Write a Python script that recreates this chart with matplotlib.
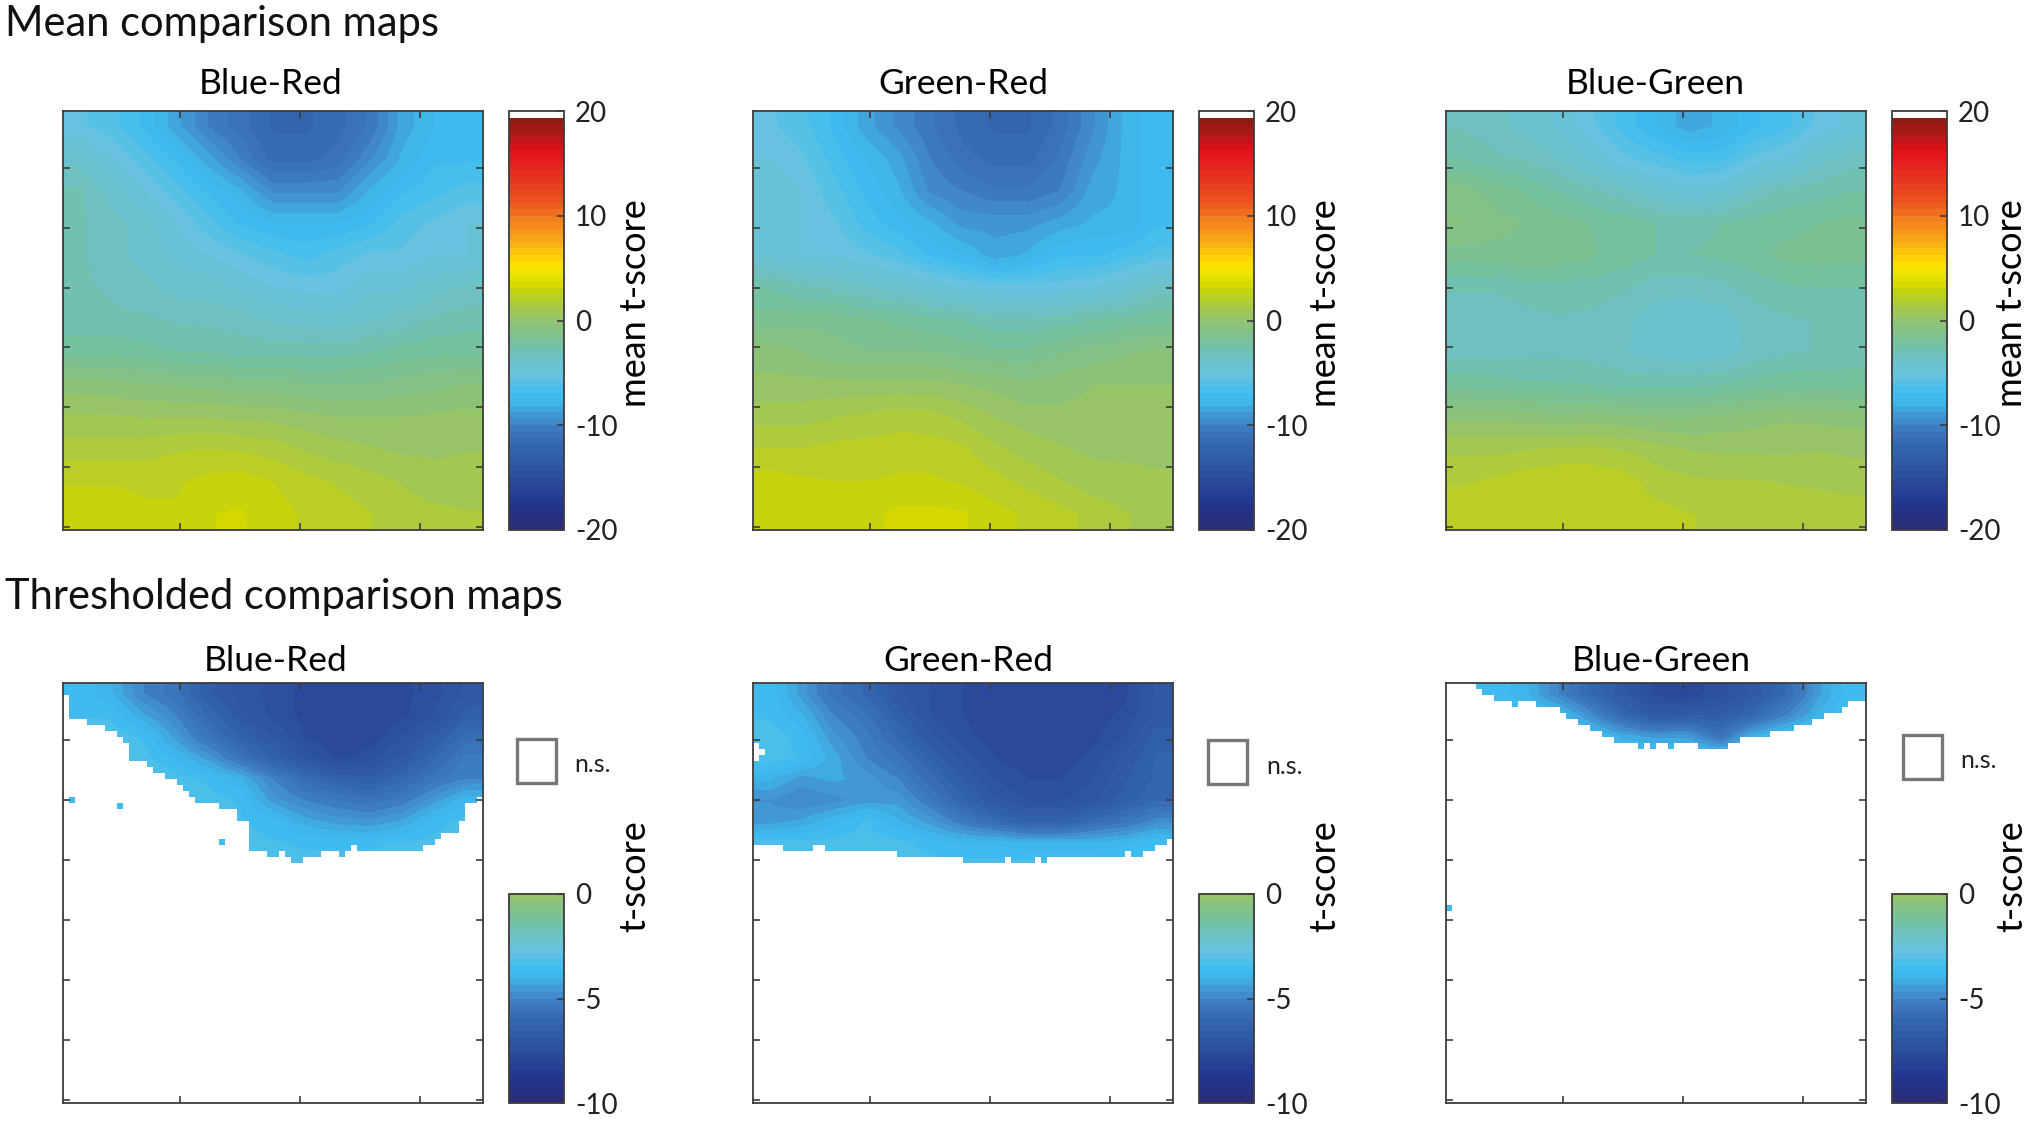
#!/usr/bin/python3

"""

Mean and thresholded comparison maps, three colour pairs

"""

import numpy as np
import matplotlib
matplotlib.use("Agg")
from matplotlib import pyplot as plt
from matplotlib.cm import ScalarMappable
from matplotlib.colors import LinearSegmentedColormap, ListedColormap, Normalize
from matplotlib.patches import Rectangle

plt.rcParams["font.family"] = ["Lato", "DejaVu Sans"]
plt.rcParams["axes.unicode_minus"] = False

W, H = 2032, 1121

pair_names = ["Blue-Red", "Green-Red", "Blue-Green"]

# mean maps, 13 x 13 samples from top edge to bottom edge
mean_blue_red = [
    [-5.5, -6, -7, -8.5, -10, -11, -12, -12, -11.5, -10.5, -8.5, -7.5, -7],
    [-4, -5, -6, -7, -8.5, -10, -11.5, -11.5, -11, -9.5, -8, -7, -7],
    [-3, -4, -5, -6, -7, -8, -9.5, -9.5, -9.5, -8, -7, -6.5, -6],
    [-3, -3.5, -4, -5, -6, -7, -7.5, -7.5, -7.5, -7, -6, -5.5, -5],
    [-3, -3.5, -4, -4.5, -5, -5.5, -6, -6.5, -6, -5.5, -5.5, -5, -5],
    [-3, -3.2, -3.5, -4, -4, -4.5, -5, -5.2, -5.2, -4.5, -4.5, -4, -3.5],
    [-3, -3, -3, -3.2, -3.3, -3.5, -3.8, -4, -4.2, -3.8, -3.5, -3, -2.8],
    [-2, -2, -2.2, -2.5, -2.5, -2.7, -2.7, -2.7, -2.7, -2.5, -2.2, -2, -2],
    [-0.3, -0.4, -0.6, -0.7, -0.8, -1, -1, -1.2, -1.2, -1.2, -1, -0.8, -0.6],
    [0.7, 0.7, 0.6, 0.6, 0.6, 0.5, 0.4, 0.2, 0, 0, 0, 0.1, 0.2],
    [1.6, 1.6, 1.6, 1.8, 1.9, 1.8, 1.6, 1.2, 0.9, 0.7, 0.5, 0.5, 0.6],
    [2.4, 2.4, 2.4, 2.4, 2.7, 2.8, 2.5, 2.1, 1.8, 1.5, 1.2, 0.9, 0.9],
    [3.1, 3, 2.6, 2.6, 3.1, 3.2, 2.8, 2.4, 2.2, 1.9, 1.6, 1.4, 1.3],
]
mean_green_red = [
    [-5.5, -6, -7, -8.5, -9.5, -10.5, -11.5, -12, -12, -11, -9.5, -8, -7],
    [-5, -5.5, -6.5, -7.5, -8.5, -10, -11, -11.5, -11.5, -10.5, -9, -8, -7],
    [-4.5, -5, -6, -7, -8, -9.5, -10, -10.5, -10.5, -10, -8.5, -8, -7],
    [-4.5, -5, -5.5, -6.5, -7.3, -8, -9, -9, -9, -8.5, -8, -8, -7],
    [-4.5, -5, -5, -5.5, -6, -7, -7.5, -8.5, -8, -7, -7, -6.5, -6],
    [-2.5, -3, -3.3, -3.7, -4, -4.5, -5, -5.3, -5.3, -5.3, -5, -4.5, -3.5],
    [-1.5, -1.5, -1.5, -1.8, -2, -2.3, -2.5, -3, -3, -2.8, -2.5, -2.3, -2],
    [-0.3, -0.6, -1, -1.2, -1.2, -1.2, -1.5, -1.7, -1.7, -1.3, -1, -0.7, -0.5],
    [0.2, 0.2, 0.2, 0.2, 0.2, 0.2, 0, -0.2, -0.5, -0.3, 0, 0, 0],
    [1, 1, 1.2, 1.4, 1.6, 1.5, 1.1, 0.6, 0.3, 0.2, 0.2, 0.4, 0.3],
    [1.9, 1.9, 2.1, 2.1, 2.2, 2.2, 2, 1.4, 1, 0.7, 0.5, 0.5, 0.5],
    [2.8, 2.6, 2.5, 2.5, 2.6, 2.6, 2.4, 2.1, 1.7, 1.3, 0.9, 0.8, 0.7],
    [2.9, 2.8, 2.9, 2.9, 3.3, 3.3, 3.2, 2.7, 2.4, 2.1, 1.7, 1.3, 1],
]
mean_blue_green = [
    [-3.2, -3.5, -4, -4.5, -5.5, -6.5, -7.5, -8.5, -8, -7, -6.5, -5.5, -4.8],
    [-2.5, -3, -3.2, -3.8, -4.5, -5.5, -6, -6.5, -6.5, -5.5, -5, -4, -3.5],
    [-1, -1.5, -2, -2.5, -3, -3.5, -4.2, -4.8, -4.5, -3.5, -3, -2.8, -2.5],
    [-0.6, -1, -1.3, -1.6, -1.9, -2.1, -2.5, -2.7, -2.5, -2.3, -2.1, -1.9, -1.7],
    [-1.6, -1.5, -1.4, -1.5, -1.8, -2.1, -2.5, -2.5, -2.4, -2.1, -1.7, -1.6, -1.7],
    [-3, -3, -2.7, -2.7, -2.8, -3, -3.5, -3.5, -3.3, -2.9, -2.6, -2.5, -2.5],
    [-3.7, -3.7, -3.4, -3.2, -3.3, -3.6, -4.1, -4.2, -4.1, -3.5, -3.2, -3.1, -3.1],
    [-3.4, -3.4, -3.3, -3.3, -3.4, -3.7, -4, -4.2, -4.1, -3.6, -3.2, -3.1, -3],
    [-2, -2.2, -2.4, -2.4, -2.5, -2.7, -2.7, -2.7, -2.5, -2.2, -2, -2, -2],
    [-0.2, -0.2, -0.3, -0.5, -0.4, -0.5, -0.7, -0.7, -0.5, -0.3, -0.1, -0.2, -0.3],
    [1.1, 1.1, 1.2, 1.4, 1.4, 1.2, 0.9, 0.6, 0.5, 0.5, 0.5, 0.6, 0.5],
    [1.8, 2, 2.3, 2.4, 2.4, 2.2, 1.6, 1.4, 1.3, 1.3, 1.2, 1.1, 1],
    [2.2, 2.4, 2.5, 2.4, 2.4, 2.2, 2.1, 1.9, 1.8, 1.8, 1.8, 1.7, 1.6],
]

# thresholded maps, 9 x 13 samples over rows 0-32 of the 70 x 70 grid
thr_blue_red = [
    [-3.5, -4, -5, -5.5, -6.5, -7, -7.3, -7.6, -7.6, -7.6, -7.6, -7.3, -6.8],
    [-3.5, -3.5, -4.3, -5, -6, -6.8, -7.3, -7.6, -7.7, -7.7, -7.6, -7.2, -6.4],
    [-3, -3.2, -3.5, -4.5, -5.5, -6.3, -6.9, -7.5, -7.8, -7.7, -7.2, -6.6, -5.8],
    [-3, -3, -3.3, -3.8, -4.5, -5.5, -6.3, -7, -7.6, -7.3, -6.8, -6, -5.2],
    [-3, -3, -3, -3.3, -3.5, -4, -5, -5.8, -6.3, -6.5, -6, -5.4, -5],
    [-3, -3, -3, -3, -3.3, -3.5, -4.5, -5, -5.3, -5.5, -5.2, -4.5, -3.8],
    [-3, -3, -3, -3, -3.2, -3.4, -3.6, -4.2, -4.5, -4.6, -4.3, -3.6, -3.3],
    [-3.3, -3.3, -3.3, -3.3, -3.3, -3.3, -3.4, -3.5, -3.5, -3.5, -3.4, -3.3, -3.3],
    [-3.3, -3.3, -3.3, -3.3, -3.3, -3.3, -3.3, -3.3, -3.3, -3.3, -3.3, -3.3, -3.3],
]
thr_green_red = [
    [-3.5, -4.5, -5.5, -6, -6.8, -7.2, -7.5, -7.7, -7.8, -7.8, -7.8, -7.6, -6.8],
    [-3.5, -4, -5, -5.5, -6.4, -7.2, -7.5, -7.7, -7.8, -7.8, -7.7, -7.4, -6.8],
    [-3.2, -3.6, -4.6, -5.2, -6, -6.8, -7.4, -7.7, -7.8, -7.8, -7.6, -7.2, -6.4],
    [-3.2, -3.5, -4.2, -5, -5.5, -6.3, -7, -7.5, -7.7, -7.7, -7.4, -6.8, -6.2],
    [-4, -4.5, -4.3, -4.5, -5, -5.8, -6.6, -7.2, -7.5, -7.5, -7.2, -6.6, -6.2],
    [-4.7, -5, -4.8, -4.5, -4.5, -5.3, -6.2, -6.8, -7.2, -7.2, -7, -6.4, -6],
    [-4.5, -4.3, -3.8, -3.4, -4, -4.5, -5.2, -5.8, -6.3, -6.3, -5.8, -5.4, -4.8],
    [-3.3, -3.3, -3.3, -3.3, -3.3, -3.6, -3.8, -3.8, -4, -4, -4, -3.8, -3.5],
    [-3.3, -3.3, -3.3, -3.3, -3.3, -3.3, -3.3, -3.3, -3.3, -3.3, -3.3, -3.3, -3.3],
]
thr_blue_green = [
    [-3.5, -3.5, -4, -5, -6, -6.8, -7.6, -7.7, -7.3, -6.8, -6, -4.5, -3.5],
    [-3.5, -3.5, -3.5, -3.7, -4.8, -6, -6.8, -6.6, -6.6, -6, -5, -4, -3.4],
    [-3.3, -3.3, -3.3, -3.3, -3.5, -4.2, -4.5, -4.5, -5.5, -4, -3.5, -3.3, -3.3],
    [-3.3, -3.3, -3.3, -3.3, -3.3, -3.3, -3.3, -3.3, -3.3, -3.3, -3.3, -3.3, -3.3],
    [-3.3, -3.3, -3.3, -3.3, -3.3, -3.3, -3.3, -3.3, -3.3, -3.3, -3.3, -3.3, -3.3],
    [-3.3, -3.3, -3.3, -3.3, -3.3, -3.3, -3.3, -3.3, -3.3, -3.3, -3.3, -3.3, -3.3],
    [-3.3, -3.3, -3.3, -3.3, -3.3, -3.3, -3.3, -3.3, -3.3, -3.3, -3.3, -3.3, -3.3],
    [-3.3, -3.3, -3.3, -3.3, -3.3, -3.3, -3.3, -3.3, -3.3, -3.3, -3.3, -3.3, -3.3],
    [-3.3, -3.3, -3.3, -3.3, -3.3, -3.3, -3.3, -3.3, -3.3, -3.3, -3.3, -3.3, -3.3],
]

# number of significant rows from the top, one entry per column
depth_blue_red = [2, 6, 6, 6, 7, 7, 7, 8, 8, 9, 10, 13, 13, 13, 14, 15, 15, 16, 16, 17,
                  18, 19, 20, 20, 20, 20, 21, 21, 21, 23, 23, 28, 28, 28, 29, 29, 28, 29, 30, 30,
                  29, 29, 29, 28, 28, 28, 29, 28, 27, 28, 28, 28, 28, 28, 28, 28, 28, 28, 28, 28,
                  27, 27, 26, 25, 25, 25, 23, 20, 20, 19]
depth_green_red = [27, 27, 27, 27, 27, 28, 28, 28, 28, 28, 27, 27, 28, 28, 28, 28, 28, 28, 28, 28,
                   28, 28, 28, 28, 29, 29, 29, 29, 29, 29, 29, 29, 29, 29, 29, 30, 30, 30, 30, 30,
                   30, 30, 29, 30, 30, 30, 30, 29, 30, 29, 29, 29, 29, 29, 29, 29, 29, 29, 29, 29,
                   29, 29, 28, 29, 29, 28, 28, 27, 27, 26]
depth_blue_green = [0, 0, 0, 0, 0, 1, 2, 2, 3, 3, 3, 4, 3, 3, 3, 4, 4, 4, 4, 5,
                    6, 6, 7, 7, 8, 8, 9, 9, 10, 10, 10, 10, 11, 10, 11, 10, 10, 11, 10, 10,
                    10, 10, 11, 11, 11, 11, 11, 10, 10, 9, 9, 9, 9, 9, 8, 8, 8, 8, 7, 7,
                    7, 6, 6, 5, 5, 5, 4, 3, 3, 3]

# isolated cells (row, column, t-score) and holes (row, column), 1-based
spots_blue_red = [(20, 2, -3.5), (21, 10, -3.5), (27, 27, -3.5)]
spots_green_red = []
spots_blue_green = [(38, 1, -3.5)]
holes_green_red = [(11, 1), (12, 1), (13, 1), (12, 2)]

cbar_mean_ticks = [-20, -10, 0, 10, 20]
cbar_thr_ticks = [-10, -5, 0]
x_ticks = [20, 40, 60]
y_ticks = [10, 20, 30, 40, 50, 60, 70]

# colour bar stops
stop_values = [-20, -18, -15.5, -12.5, -10.5, -9, -8, -7, -5.5, -4, -2.5, -1, 0.5, 2, 3.2,
               4.5, 5.5, 6.5, 8, 10, 12, 14.5, 16.5, 18, 19.4, 20]
stop_colours = ["#2a2d78", "#21348c", "#2b4a9c", "#3364ae", "#3e7bc0", "#4399d6", "#3fb5ea",
                "#3fbdf0", "#66c2e0", "#6cc2cc", "#74c1a6", "#85c184", "#98c565", "#b5cd32",
                "#cdd500", "#ece400", "#fde000", "#fdc80a", "#f7a218", "#f27a1e", "#ea4e20",
                "#e52b20", "#e3101a", "#b2181a", "#8e1a14", "#8e1a14"]

base = LinearSegmentedColormap.from_list(
    "tscore", [((v + 20) / 40, c) for v, c in zip(stop_values, stop_colours)])
mean_colours = base(np.linspace(0, 1, 64))
mean_colours[-1] = (1, 1, 1, 1)
mean_cmap = ListedColormap(mean_colours)
thr_cmap = ListedColormap(base(np.linspace(0, 0.5, 32)))
mean_norm = Normalize(-20, 20)
thr_norm = Normalize(-10, 0)

INK = "#3c3c3c"
EXT = (0.5, 70.5, 70.5, 0.5)

fig = plt.figure(figsize=(W / 100, H / 100), dpi=100)


def px_axes(x0, y0, x1, y1):
    return fig.add_axes([x0 / W, 1 - y1 / H, (x1 - x0) / W, (y1 - y0) / H])


def setup_map(ax):
    ax.set_xlim(0.5, 70.5)
    ax.set_ylim(70.5, 0.5)
    ax.set_aspect("auto")
    ax.set_xticks(x_ticks)
    ax.set_yticks(y_ticks)
    ax.tick_params(direction="in", length=5, width=1.2, color=INK, top=True, right=True,
                   labelleft=False, labelbottom=False)
    for s in ax.spines.values():
        s.set_linewidth(1.3)
        s.set_color(INK)


def add_cbar(box, cmap, norm, ticks):
    cax = px_axes(*box)
    cb = fig.colorbar(ScalarMappable(norm=norm, cmap=cmap), cax=cax, ticks=ticks)
    cb.ax.tick_params(direction="in", length=5, width=1.2, color=INK, labelsize=20, pad=8,
                      labelcolor="#222222")
    cb.outline.set_linewidth(1.3)
    cb.outline.set_edgecolor(INK)


map_left = [63, 753, 1446]
cbar_left = [509, 1199, 1892]
label_x = [635, 1325, 2012]
title_x = [271, 963, 1655]
title_x2 = [276, 968, 1661]
box_left = [517, 1208, 1903]
box_top = [739, 740, 735]
ns_x = [574, 1266, 1960]

mean_maps = [mean_blue_red, mean_green_red, mean_blue_green]
thr_maps = [thr_blue_red, thr_green_red, thr_blue_green]
depths = [depth_blue_red, depth_green_red, depth_blue_green]
spots = [spots_blue_red, spots_green_red, spots_blue_green]
holes = [[], holes_green_red, []]

fig.text(5 / W, 1 - 24 / H, "Mean comparison maps", fontsize=30, va="center", color="#111111")
fig.text(5 / W, 1 - 597 / H, "Thresholded comparison maps", fontsize=30, va="center", color="#111111")

for i in range(3):
    # mean row
    ax = px_axes(map_left[i], 111, map_left[i] + 420, 530)
    ax.imshow(mean_maps[i], cmap=mean_cmap, norm=mean_norm, extent=EXT, aspect="auto",
              interpolation="bilinear", interpolation_stage="data")
    setup_map(ax)
    add_cbar((cbar_left[i], 111, cbar_left[i] + 55, 530), mean_cmap, mean_norm, cbar_mean_ticks)
    fig.text(title_x[i] / W, 1 - 84 / H, pair_names[i], fontsize=25.5, ha="center", va="center")
    fig.text(label_x[i] / W, 1 - 303 / H, "mean t-score", fontsize=26, rotation=90, ha="center", va="center")

    # thresholded row
    ax = px_axes(map_left[i], 683, map_left[i] + 420, 1103)
    ax.imshow(thr_maps[i], cmap=thr_cmap, norm=thr_norm, extent=(0.5, 70.5, 32.5, 0.5), aspect="auto",
              interpolation="bilinear", interpolation_stage="data")
    # white out the cells that did not pass the threshold
    rows = np.arange(1, 71)[:, None]
    not_sig = rows > np.array(depths[i])[None, :]
    for r, c in holes[i]:
        not_sig[r - 1, c - 1] = True
    ax.imshow(np.where(not_sig, 1.0, np.nan), cmap=ListedColormap(["white"]), extent=EXT,
              aspect="auto", interpolation="nearest")
    spot_grid = np.full((70, 70), np.nan)
    for r, c, v in spots[i]:
        spot_grid[r - 1, c - 1] = v
    ax.imshow(spot_grid, cmap=thr_cmap, norm=thr_norm, extent=EXT, aspect="auto", interpolation="nearest")
    setup_map(ax)
    add_cbar((cbar_left[i], 894, cbar_left[i] + 55, 1103), thr_cmap, thr_norm, cbar_thr_ticks)
    fig.text(title_x2[i] / W, 1 - 661 / H, pair_names[i], fontsize=25.5, ha="center", va="center")
    fig.text(label_x[i] / W, 1 - 876 / H, "t-score", fontsize=26, rotation=90, ha="center", va="center")

    # n.s. key
    fig.add_artist(Rectangle((box_left[i] / W, 1 - (box_top[i] + 44) / H), 39 / W, 44 / H,
                             transform=fig.transFigure, facecolor="white", edgecolor="#777777", linewidth=2.4))
    fig.text(ns_x[i] / W, 1 - (box_top[i] + 26) / H, "n.s.", fontsize=18, va="center", color="#222222")

plt.savefig("out.png", dpi=100)
